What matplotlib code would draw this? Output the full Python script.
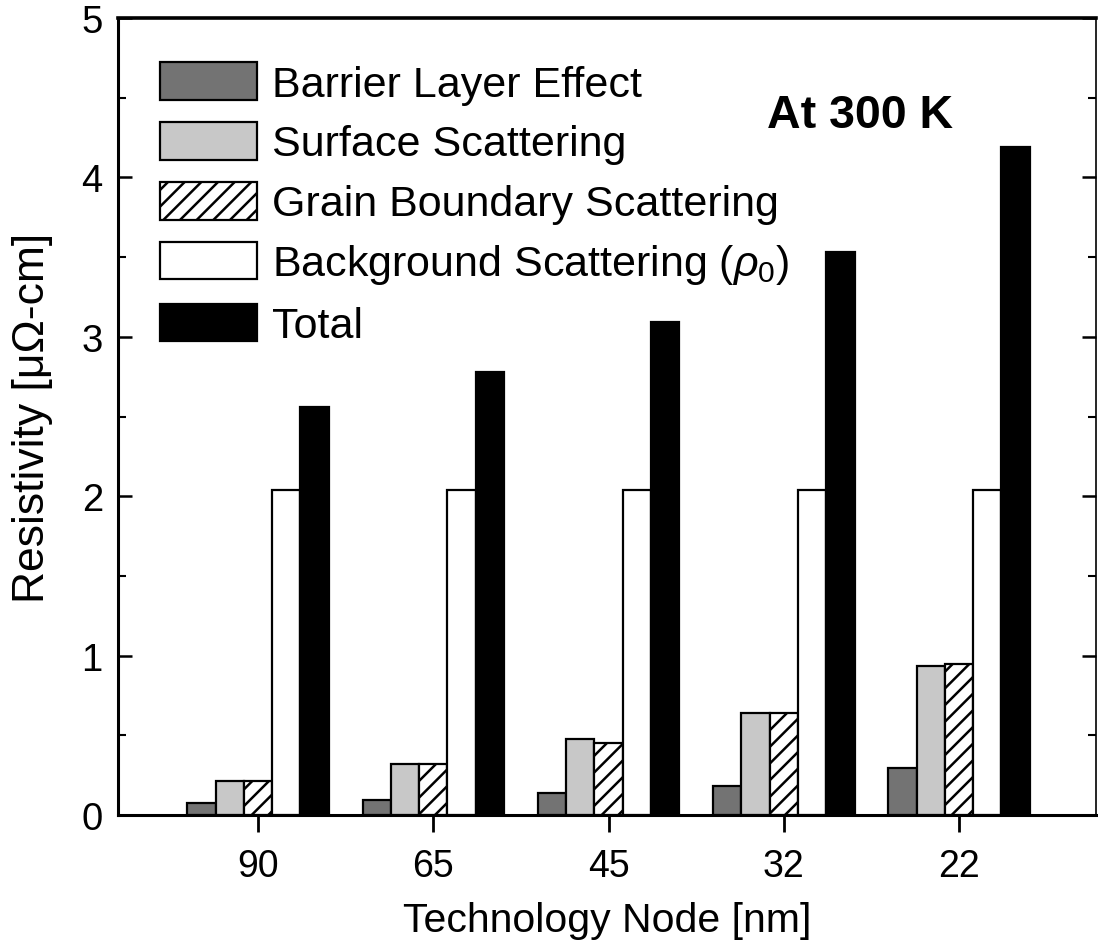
import numpy as np
import matplotlib
matplotlib.use("Agg")
import matplotlib.pyplot as plt
from matplotlib.ticker import MultipleLocator

# ---- data ----
nodes = ["90", "65", "45", "32", "22"]
barrier = [0.075, 0.096, 0.138, 0.183, 0.294]
surface = [0.215, 0.32, 0.476, 0.643, 0.935]
grain = [0.215, 0.32, 0.455, 0.643, 0.946]
background = [2.04, 2.04, 2.04, 2.04, 2.04]
total = [2.56, 2.78, 3.095, 3.53, 4.19]
series_labels = ["Barrier Layer Effect", "Surface Scattering",
                 "Grain Boundary Scattering",
                 r"Background Scattering ($\rho_0$)", "Total"]

plt.rcParams["font.family"] = ["Liberation Sans", "DejaVu Sans"]
plt.rcParams["mathtext.fontset"] = "custom"
plt.rcParams["mathtext.rm"] = "Liberation Sans"
plt.rcParams["mathtext.it"] = "Liberation Sans:italic"
plt.rcParams["hatch.linewidth"] = 1.8

fig = plt.figure(figsize=(10.98, 9.53), dpi=100)
ax = fig.add_axes([0.1075, 0.1437, 0.8907, 0.8363])

x = np.arange(len(nodes))
w = 0.1615
series = [barrier, surface, grain, background, total]
fills = ["#737373", "#c8c8c8", "white", "white", "black"]
hatches = [None, None, "//", None, None]
for i, (vals, fc, h, lab) in enumerate(zip(series, fills, hatches, series_labels)):
    ax.bar(x + (i - 2) * w, vals, width=w, color=fc, edgecolor="black",
           linewidth=1.6, hatch=h, label=lab, zorder=2)

ax.set_xlim(-0.799, 4.782)
ax.set_ylim(0, 5)
ax.set_xticks(x)
ax.set_xticklabels(nodes)
ax.yaxis.set_major_locator(MultipleLocator(1))
ax.yaxis.set_minor_locator(MultipleLocator(0.5))

ax.tick_params(axis="x", which="major", direction="out", length=12, width=2,
               labelsize=27, pad=12, top=False)
ax.tick_params(axis="x", which="minor", bottom=False, top=False)
ax.tick_params(axis="y", which="major", direction="in", length=10, width=1.8,
               labelsize=27.5, pad=11, left=True, right=True)
ax.tick_params(axis="y", which="minor", direction="in", length=5.5, width=1.5,
               left=True, right=True)

ax.spines["left"].set_linewidth(2.2)
ax.spines["bottom"].set_linewidth(2.2)
ax.spines["top"].set_linewidth(2.6)
ax.spines["right"].set_linewidth(1.2)

ax.set_xlabel("Technology Node [nm]", fontsize=29.5)
ax.xaxis.set_label_coords(0.5, -0.108)
ax.set_ylabel("Resistivity [μΩ-cm]", fontsize=32)
ax.yaxis.set_label_coords(-0.066, 0.5)

ax.text(0.664, 0.863, "At 300 K", transform=ax.transAxes, fontsize=33.5,
        fontweight="bold", ha="left", va="baseline")

leg = ax.legend(loc="upper left", bbox_to_anchor=(0.043, 0.945), frameon=False,
                fontsize=31, handlelength=2.25, handleheight=0.975,
                handletextpad=0.35, labelspacing=0.40, borderpad=0,
                borderaxespad=0)

fig.savefig("out.png", dpi=100)
